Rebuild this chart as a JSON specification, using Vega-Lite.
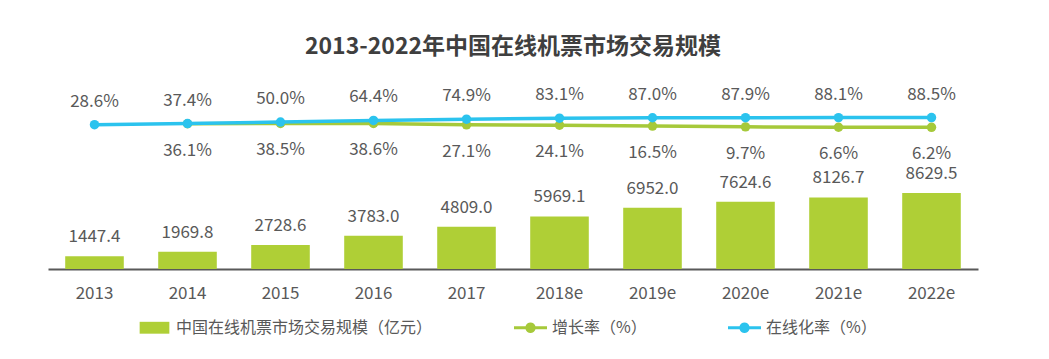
{
  "$schema": "https://vega.github.io/schema/vega-lite/v6.json",
  "autosize": {"type": "none"},
  "width": 930,
  "height": 189,
  "padding": {"left": 48, "top": 80, "right": 71, "bottom": 90},
  "background": "white",
  "title": {
    "text": "2013-2022年中国在线机票市场交易规模",
    "font": "Noto Sans CJK SC",
    "fontSize": 23,
    "fontWeight": "bold",
    "color": "#3F3F3F",
    "anchor": "middle",
    "frame": "group",
    "baseline": "alphabetic",
    "offset": 27,
    "dy": 24
  },
  "config": {
    "view": {"stroke": null},
    "font": "Noto Sans CJK SC"
  },
  "data": {
    "values": [
      {"year": "2013", "scale": 1447.4, "scaleLabel": "1447.4", "growth": null, "growthLabel": "", "online": 28.6, "onlineLabel": "28.6%"},
      {"year": "2014", "scale": 1969.8, "scaleLabel": "1969.8", "growth": 36.1, "growthLabel": "36.1%", "online": 37.4, "onlineLabel": "37.4%"},
      {"year": "2015", "scale": 2728.6, "scaleLabel": "2728.6", "growth": 38.5, "growthLabel": "38.5%", "online": 50.0, "onlineLabel": "50.0%"},
      {"year": "2016", "scale": 3783.0, "scaleLabel": "3783.0", "growth": 38.6, "growthLabel": "38.6%", "online": 64.4, "onlineLabel": "64.4%"},
      {"year": "2017", "scale": 4809.0, "scaleLabel": "4809.0", "growth": 27.1, "growthLabel": "27.1%", "online": 74.9, "onlineLabel": "74.9%"},
      {"year": "2018e", "scale": 5969.1, "scaleLabel": "5969.1", "growth": 24.1, "growthLabel": "24.1%", "online": 83.1, "onlineLabel": "83.1%"},
      {"year": "2019e", "scale": 6952.0, "scaleLabel": "6952.0", "growth": 16.5, "growthLabel": "16.5%", "online": 87.0, "onlineLabel": "87.0%"},
      {"year": "2020e", "scale": 7624.6, "scaleLabel": "7624.6", "growth": 9.7, "growthLabel": "9.7%", "online": 87.9, "onlineLabel": "87.9%"},
      {"year": "2021e", "scale": 8126.7, "scaleLabel": "8126.7", "growth": 6.6, "growthLabel": "6.6%", "online": 88.1, "onlineLabel": "88.1%"},
      {"year": "2022e", "scale": 8629.5, "scaleLabel": "8629.5", "growth": 6.2, "growthLabel": "6.2%", "online": 88.5, "onlineLabel": "88.5%"}
    ]
  },
  "encoding": {
    "x": {
      "field": "year",
      "type": "ordinal",
      "sort": null,
      "scale": {"paddingInner": 0.37, "paddingOuter": 0.185},
      "axis": {
        "title": null,
        "labelAngle": 0,
        "labelFont": "Noto Sans CJK SC",
        "labelFontSize": 17,
        "labelColor": "#595959",
        "labelPadding": 16,
        "ticks": false,
        "domainColor": "#595959",
        "domainWidth": 2,
        "grid": false
      }
    }
  },
  "layer": [
    {
      "mark": {"type": "bar"},
      "encoding": {
        "y": {"field": "scale", "type": "quantitative", "scale": {"domain": [0, 21460]}, "axis": null},
        "color": {
          "datum": "中国在线机票市场交易规模（亿元）",
          "type": "nominal",
          "scale": {
            "domain": ["中国在线机票市场交易规模（亿元）", "增长率（%）", "在线化率（%）"],
            "range": ["#AFCF36", "#A6C93A", "#2BC3EE"]
          },
          "legend": {
            "title": null,
            "orient": "none",
            "legendX": 90,
            "legendY": 231,
            "direction": "horizontal",
            "columns": 3,
            "columnPadding": 81,
            "labelOffset": 5,
            "labelFont": "Noto Sans CJK SC",
            "labelFontSize": 16,
            "labelColor": "#595959",
            "labelLimit": 400,
            "symbolSize": 1089,
            "encode": {
              "symbols": {
                "update": {
                  "shape": {"signal": "datum.value === '中国在线机票市场交易规模（亿元）' ? 'M-0.9,-0.36H0.9V0.36H-0.9Z' : 'M-1,-0.09H-0.3A0.31,0.31 0 0,1 0.3,-0.09H1V0.09H0.3A0.31,0.31 0 0,1 -0.3,0.09H-1Z'"},
                  "fill": {"signal": "datum.value === '在线化率（%）' ? '#2BC3EE' : (datum.value === '增长率（%）' ? '#A6C93A' : '#AFCF36')"},
                  "strokeWidth": {"value": 0},
                  "opacity": {"value": 1}
                }
              }
            }
          }
        }
      }
    },
    {
      "mark": {"type": "text", "baseline": "middle", "dy": -19, "fontSize": 17, "color": "#595959", "font": "Noto Sans CJK SC"},
      "encoding": {
        "y": {"field": "scale", "type": "quantitative", "scale": {"domain": [0, 21460]}, "axis": null},
        "text": {"field": "scaleLabel"}
      }
    },
    {
      "mark": {"type": "line", "strokeWidth": 3.5, "point": {"filled": true, "size": 90, "opacity": 1}},
      "encoding": {
        "y": {"field": "growth", "type": "quantitative", "scale": {"domain": [-1195, 407]}, "axis": null},
        "color": {"datum": "增长率（%）", "type": "nominal"}
      }
    },
    {
      "mark": {"type": "line", "strokeWidth": 3.5, "point": {"filled": true, "size": 90, "opacity": 1}},
      "encoding": {
        "y": {"field": "online", "type": "quantitative", "scale": {"domain": [-1195, 407]}, "axis": null},
        "color": {"datum": "在线化率（%）", "type": "nominal"}
      }
    },
    {
      "mark": {"type": "text", "baseline": "middle", "dy": 27, "fontSize": 17, "color": "#595959", "font": "Noto Sans CJK SC"},
      "encoding": {
        "y": {"field": "growth", "type": "quantitative", "scale": {"domain": [-1195, 407]}, "axis": null},
        "text": {"field": "growthLabel"}
      }
    },
    {
      "mark": {"type": "text", "baseline": "middle", "dy": -23, "fontSize": 17, "color": "#595959", "font": "Noto Sans CJK SC"},
      "encoding": {
        "y": {"field": "online", "type": "quantitative", "scale": {"domain": [-1195, 407]}, "axis": null},
        "text": {"field": "onlineLabel"}
      }
    }
  ],
  "resolve": {"scale": {"y": "independent"}}
}
